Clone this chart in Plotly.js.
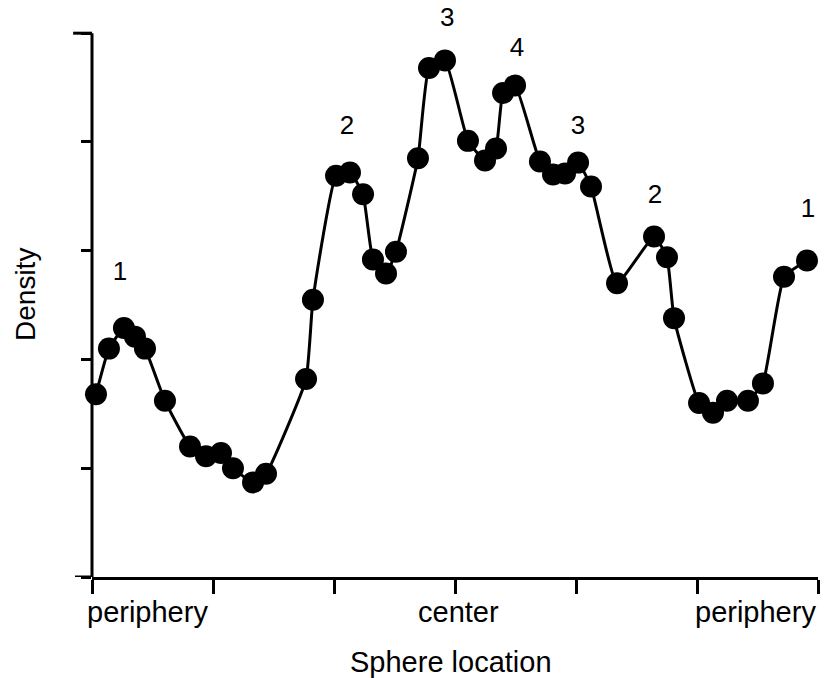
<!DOCTYPE html>
<html>
<head>
<meta charset="utf-8">
<script src="https://cdn.plot.ly/plotly-3.0.1.min.js"></script>
<style>html,body{margin:0;padding:0;background:#fff;}#chart{width:826px;height:678px;}</style>
</head>
<body>
<div id="chart"></div>
<script>
// Sphere location (0 = periphery, 3 = center, 6 = periphery)
const sphereLocation = [0.033,0.140,0.264,0.355,0.438,0.603,0.810,0.942,1.066,1.165,1.331,1.438,
  1.769,1.826,2.017,2.132,2.240,2.322,2.430,2.512,2.694,2.785,2.917,3.107,3.248,3.339,3.397,3.496,
  3.702,3.810,3.909,4.017,4.124,4.339,4.645,4.752,4.810,5.017,5.132,5.248,5.421,5.545,5.719,5.909];
const density = [1.68,2.10,2.29,2.21,2.10,1.62,1.20,1.11,1.14,1.00,0.87,0.95,
  1.82,2.55,3.69,3.72,3.52,2.92,2.79,2.99,3.85,4.68,4.75,4.01,3.83,3.94,4.45,4.52,
  3.82,3.70,3.71,3.81,3.59,2.70,3.13,2.94,2.38,1.60,1.51,1.62,1.62,1.78,2.76,2.91];

const tickVals = [0,1,2,3,4,5,6];
const yTickVals = [0,1,2,3,4,5];
const locationLabels = ["periphery","center","periphery"];

const peakLabels = ["1","2","3","4","3","2","1"];
const peakX = [0.231,2.107,2.935,3.512,4.017,4.653,5.917];
const peakY = [2.79,4.13,5.13,4.85,4.13,3.50,3.37];

const xTitle = "Sphere location";
const yTitle = "Density";

const font = "Liberation Sans, Arial, Helvetica, sans-serif";

const trace = {
  x: sphereLocation, y: density, type: "scatter", mode: "lines+markers",
  line: {color: "#000", width: 3, shape: "spline", smoothing: 0.4},
  marker: {color: "#000", size: 22},
  cliponaxis: false, hoverinfo: "skip"
};

const peakTrace = {
  x: peakX, y: peakY, text: peakLabels, type: "scatter", mode: "text",
  textposition: "middle center", textfont: {family: font, size: 26, color: "#000"},
  cliponaxis: false, hoverinfo: "skip"
};

const labelFont = {family: font, size: 29, color: "#000"};
const annotations = [
  {x: -0.0096, y: -0.0613, xref: "paper", yref: "paper", text: locationLabels[0], showarrow: false,
   xanchor: "left", yanchor: "middle", font: labelFont},
  {x: 0.5055, y: -0.0613, xref: "paper", yref: "paper", text: locationLabels[1], showarrow: false,
   xanchor: "center", yanchor: "middle", font: labelFont},
  {x: 1.0, y: -0.0613, xref: "paper", yref: "paper", text: locationLabels[2], showarrow: false,
   xanchor: "right", yanchor: "middle", font: labelFont},
  {x: 0.4945, y: -0.1489, xref: "paper", yref: "paper", text: xTitle, showarrow: false,
   xanchor: "center", yanchor: "middle", font: labelFont},
  {x: -0.0909, y: 0.4939, xref: "paper", yref: "paper", text: yTitle, showarrow: false,
   textangle: -90, xanchor: "center", yanchor: "middle", font: {family: font, size: 28, color: "#000"}}
];

const layout = {
  width: 826, height: 678,
  margin: {l: 92, r: 8, t: 6, b: 101},
  paper_bgcolor: "#fff", plot_bgcolor: "#fff",
  showlegend: false,
  font: {family: font, color: "#000", size: 29},
  xaxis: {
    range: [0, 6], tickvals: tickVals, showticklabels: false,
    showgrid: false, zeroline: false, showline: true, linecolor: "#000", linewidth: 3,
    ticks: "outside", ticklen: 14, tickwidth: 3, tickcolor: "#000"
  },
  yaxis: {
    range: [0, 5.25], tickvals: yTickVals, showticklabels: false,
    showgrid: false, zeroline: false, showline: false,
    ticks: "outside", ticklen: 10, tickwidth: 3, tickcolor: "#000"
  },
  shapes: [
    // y axis line from 0 to 5
    {type: "line", xref: "paper", yref: "y", x0: 0, x1: 0, y0: 0, y1: 5,
     line: {color: "#000", width: 3}, layer: "above"},
    // x axis stub to the left
    {type: "line", xref: "paper", yref: "y", x0: -0.0234, x1: 0, y0: 0, y1: 0,
     line: {color: "#000", width: 3}},
    // longer top cap
    {type: "line", xref: "paper", yref: "y", x0: -0.026, x1: 0, y0: 5, y1: 5,
     line: {color: "#000", width: 3}}
  ],
  annotations: annotations
};

Plotly.newPlot("chart", [trace, peakTrace], layout, {displayModeBar: false, staticPlot: true});
</script>
</body>
</html>
